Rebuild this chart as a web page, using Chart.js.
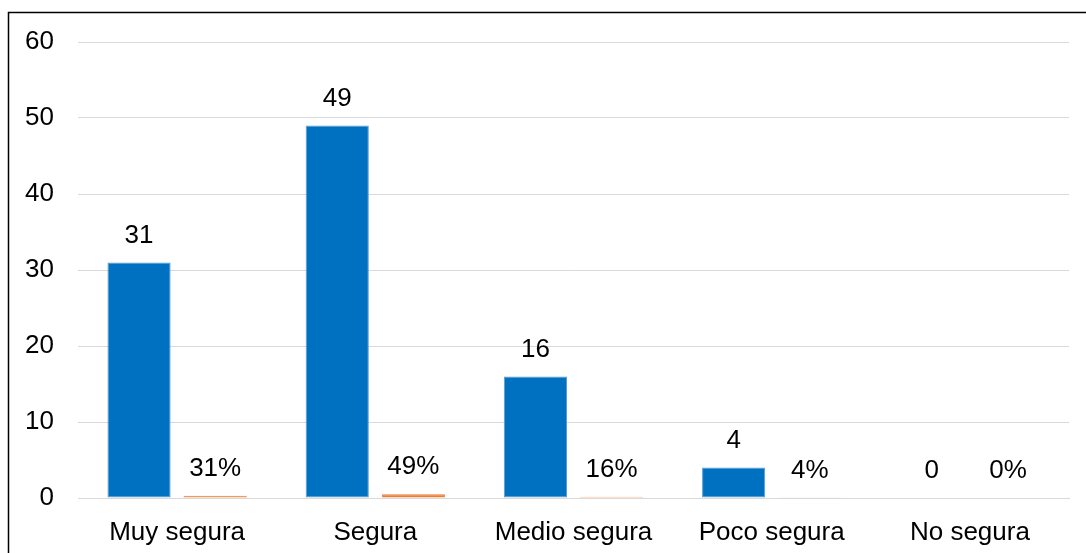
<!DOCTYPE html>
<html>
<head>
<meta charset="utf-8">
<script src="https://cdn.jsdelivr.net/npm/chart.js@4"></script>
<style>
    html, body { margin: 0; padding: 0; background: #fff; overflow: hidden; }
    canvas { display: block; }
</style>
</head>
<body>
<canvas id="chartSeguridad" width="1086" height="553"></canvas>
<script>
// ── Datos ───────────────────────────────────────────────────────────
const categorias  = ['Muy segura', 'Segura', 'Medio segura', 'Poco segura', 'No segura'];
const frecuencias = [31, 49, 16, 4, 0];
const porcentajes = [0.31, 0.49, 0.16, 0.04, 0];
const ticksY      = [0, 10, 20, 30, 40, 50, 60];

const FUENTE = '"Liberation Sans", Arial, sans-serif';

// marco alrededor del gráfico
const marco = {
    id: 'marco',
    afterDraw(chart) {
        const c = chart.ctx;
        c.save();
        c.strokeStyle = '#000';
        c.lineWidth = 1.5;
        c.strokeRect(8.5, 12.5, chart.width + 20, chart.height + 20);
        c.restore();
    }
};

// etiquetas de datos encima de cada barra
const etiquetas = {
    id: 'etiquetas',
    afterDatasetsDraw(chart) {
        const c = chart.ctx;
        c.save();
        c.font = '26px ' + FUENTE;
        c.fillStyle = '#000';
        c.textAlign = 'center';
        c.textBaseline = 'middle';
        chart.data.datasets.forEach((ds, i) => {
            chart.getDatasetMeta(i).data.forEach((bar, j) => {
                const v = ds.data[j];
                const txt = i === 1 ? Math.round(v * 100) + '%' : String(v);
                c.fillText(txt, bar.x, bar.y - 27);
            });
        });
        c.restore();
    }
};

new Chart(document.getElementById('chartSeguridad'), {
    type: 'bar',
    data: {
        labels: categorias,
        datasets: [
            {
                label: 'Frecuencia',
                data: frecuencias,
                backgroundColor: '#0070C0',
                borderColor: '#5B9BD5',
                borderWidth: 1,
                borderSkipped: false,
                categoryPercentage: 0.768,
                barPercentage: 0.83,
            },
            {
                label: 'Porcentaje',
                data: porcentajes,
                backgroundColor: '#ED7D31',
                borderColor: '#ED7D31',
                borderWidth: 1,
                categoryPercentage: 0.768,
                barPercentage: 0.83,
            }
        ]
    },
    options: {
        responsive: false,
        animation: false,
        layout: { padding: { top: 42, right: 17, bottom: 0, left: 0 } },
        plugins: {
            legend: { display: false },
            tooltip: { enabled: false }
        },
        scales: {
            x: {
                grid: { display: false },
                border: { display: true, color: '#D9D9D9', width: 1 },
                ticks: { color: '#000', padding: 11, font: { family: FUENTE, size: 26 } },
                afterFit: s => { s.height = 55; }
            },
            y: {
                min: 0,
                max: 60,
                afterBuildTicks: s => { s.ticks = ticksY.map(v => ({ value: v })); },
                grid: { color: '#D9D9D9', lineWidth: 1, drawTicks: false },
                border: { display: false },
                ticks: { color: '#000', padding: 24, font: { family: FUENTE, size: 26 } },
                afterFit: s => { s.width = 78; }
            }
        }
    },
    plugins: [etiquetas, marco]
});
</script>
</body>
</html>
